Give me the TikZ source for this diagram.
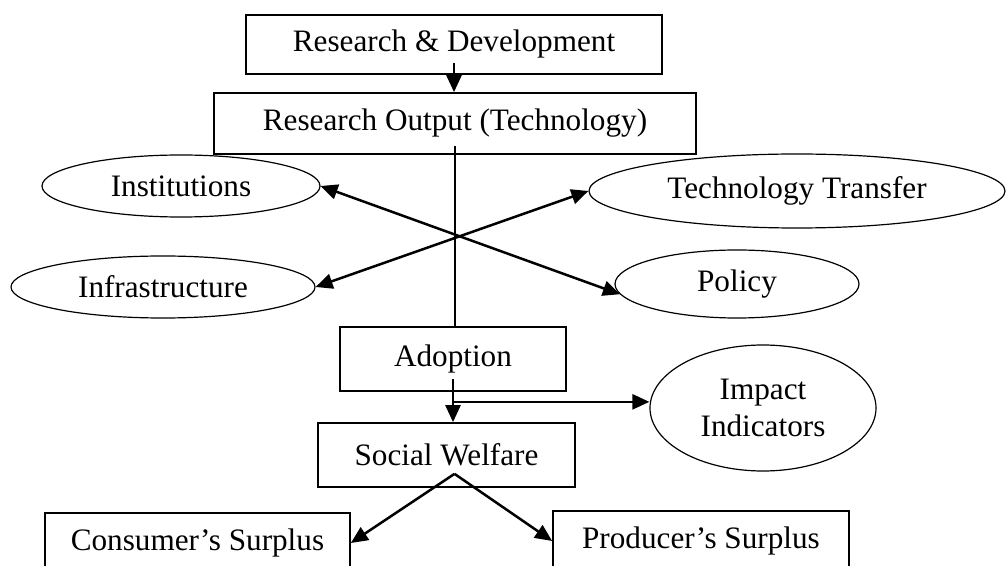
\documentclass[tikz,border=0pt]{standalone}
\usepackage{fontspec}
\setmainfont{Liberation Serif}
\usetikzlibrary{shapes.geometric,arrows.meta}

\begin{document}
\begin{tikzpicture}[x=0.5pt, y=-0.5pt,
        every node/.style={font=\fontsize{15.6}{18.7}\selectfont},
        box/.style={draw=black, line width=0.85pt, inner sep=0pt},
        oval/.style={ellipse, draw=black, line width=0.6pt, inner sep=0pt, align=center},
        arr/.style={line width=1.25pt, -{Triangle[length=8.5pt,width=7.5pt]}},
        dbl/.style={line width=1.25pt, {Triangle[length=8.5pt,width=7.5pt]}-{Triangle[length=8.5pt,width=7.5pt]}}]
        \useasboundingbox (0,0) rectangle (1006,566);
        \clip (0,0) rectangle (1006,566);

        \node[box, minimum width=208pt, minimum height=29.5pt] (rd) at (454,44.5) {Research \& Development};
        \node[box, minimum width=241pt, minimum height=30.5pt] (out) at (455,123.5) {Research Output (Technology)};
        \node[oval, minimum width=139pt, minimum height=31pt] (inst) at (181,186) {Institutions};
        \node[oval, minimum width=208pt, minimum height=37pt] (tt) at (797,191) {Technology Transfer};
        \node[oval, minimum width=152pt, minimum height=31pt] (infra) at (163,287) {Infrastructure};
        \node[oval, minimum width=122pt, minimum height=34pt] (policy) at (737,284) {Policy};
        \node[box, minimum width=113pt, minimum height=32pt] (adopt) at (453,359) {Adoption};
        \node[oval, minimum width=113pt, minimum height=63pt] (impact) at (763,408) {Impact\\Indicators};
        \node[box, minimum width=128.5pt, minimum height=32pt] (welfare) at (446.5,455) {Social Welfare};
        \node[box, minimum width=152.5pt, minimum height=30pt] (cons) at (197.5,543) {Consumer’s Surplus};
        \node[box, minimum width=148pt, minimum height=30pt] (prod) at (701,541) {Producer’s Surplus};

        \coordinate (split) at ([yshift=-5pt]adopt.south);
        \coordinate (fork) at ([xshift=4pt,yshift=7pt]welfare.south);

        \draw[arr] ([yshift=6pt]rd.south) -- (rd.south |- out.north);
        \draw[line width=1.2pt] ([yshift=4.5pt]out.south) -- (out.south |- adopt.north);
        \draw[dbl] (inst.east) -- (policy.185);
        \draw[dbl] (infra.east) -- (tt.west);
        \draw[arr] ([yshift=6.5pt]adopt.south) -- (adopt.south |- welfare.north);
        \draw[arr] (split) -- (split -| impact.west);
        \draw[arr] (fork) -- (cons.east);
        \draw[arr] (fork) -- (prod.west);
    \end{tikzpicture}
\end{document}
